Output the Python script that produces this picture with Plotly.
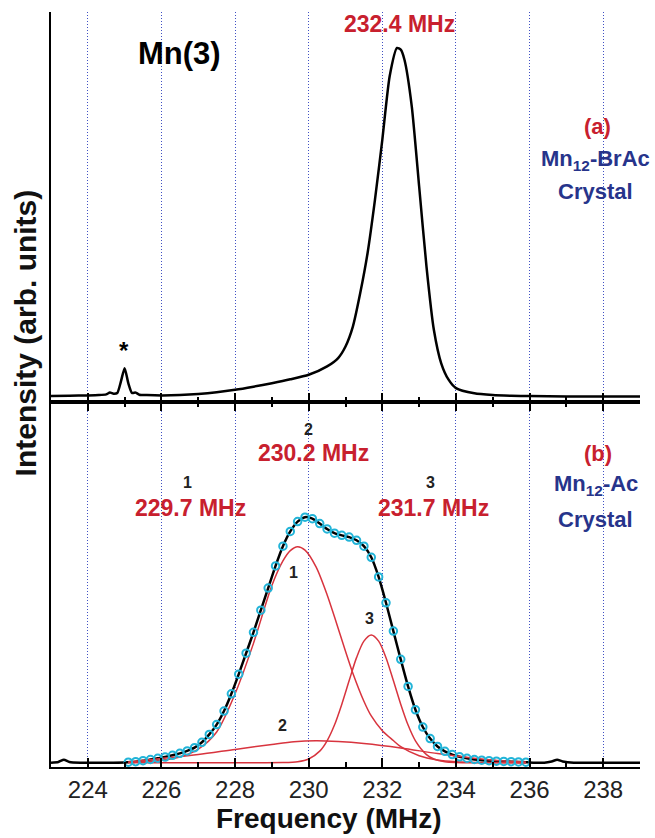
import plotly.graph_objects as go

# ---------------- (a) Mn12-BrAc crystal spectrum ----------------
top_freq = [223.0, 223.5, 224.0, 224.3, 224.5, 224.6, 224.7, 224.8, 224.9, 225.0,
            225.1, 225.2, 225.3, 225.4, 225.6, 226.0, 226.5, 227.0, 227.5, 228.0,
            228.5, 229.0, 229.5, 230.0, 230.5, 230.8, 231.0, 231.2, 231.4, 231.6,
            231.8, 232.0, 232.2, 232.4, 232.5, 232.6, 232.8, 233.0, 233.2, 233.4,
            233.6, 233.8, 234.0, 234.5, 235.0, 235.5, 236.0, 237.0, 238.0, 239.0]
top_intensity = [0.3, 0.4, 0.5, 0.6, 0.8, 1.3, 1.0, 1.2, 4.5, 8.3,
                 4.0, 1.2, 1.3, 0.7, 0.6, 0.5, 0.6, 0.9, 1.4, 2.1,
                 3.0, 4.0, 5.1, 6.4, 8.8, 11.2, 14.5, 20.2, 29.8, 41.3,
                 56.5, 73.7, 91.9, 100.0, 99.5, 96.7, 83.3, 60.4, 37.4, 19.3,
                 9.7, 5.0, 2.6, 1.1, 0.6, 0.4, 0.3, 0.2, 0.2, 0.2]

# ---------------- (b) Mn12-Ac crystal spectrum ----------------
# measured points (open circles)
meas_freq = [225.1, 225.3, 225.5, 225.7, 225.9, 226.1, 226.3, 226.5, 226.7, 226.9,
             227.1, 227.3, 227.5, 227.7, 227.9, 228.1, 228.3, 228.5, 228.7, 228.9,
             229.1, 229.3, 229.5, 229.7, 229.9, 230.1, 230.3, 230.5, 230.7, 230.9,
             231.1, 231.3, 231.5, 231.7, 231.9, 232.1, 232.3, 232.5, 232.7, 232.9,
             233.1, 233.3, 233.5, 233.7, 233.9, 234.1, 234.3, 234.5, 234.7, 234.9,
             235.1, 235.3, 235.5, 235.7, 235.9]
meas_intensity = [0.2, 0.4, 0.8, 1.3, 1.8, 2.3, 3.0, 3.8, 4.8, 6.1,
                  8.3, 11.5, 15.5, 21.0, 28.0, 36.0, 44.5, 53.0, 62.0, 71.0,
                  80.0, 88.0, 94.0, 98.0, 99.8, 99.2, 97.2, 95.0, 93.3, 92.4,
                  91.7, 90.4, 88.0, 83.5, 75.5, 65.0, 53.5, 42.0, 31.0, 21.5,
                  14.5, 9.8, 6.6, 4.6, 3.3, 2.4, 1.8, 1.3, 1.0, 0.8,
                  0.6, 0.5, 0.4, 0.3, 0.2]

# baseline outside the measured window
base_left_freq = [223.0, 223.2, 223.35, 223.5, 223.8, 224.5, 225.0]
base_left_int = [0.0, 0.3, 1.2, 0.3, 0.0, 0.0, 0.1]
base_right_freq = [236.0, 236.4, 236.6, 236.75, 236.9, 237.2, 238.0, 239.0]
base_right_int = [0.1, 0.0, 0.5, 1.2, 0.5, 0.0, 0.0, 0.0]

# fitted components
c1_freq = [225.1, 225.5, 226.0, 226.5, 227.0, 227.5, 228.0, 228.5, 229.0, 229.3,
           229.5, 229.7, 229.9, 230.2, 230.5, 230.7, 231.0, 231.2, 231.5, 231.7,
           232.0, 232.3, 232.5, 233.0, 233.5, 234.0, 235.0, 235.9]
c1_int = [0.2, 0.4, 1.0, 2.3, 5.5, 12.5, 28.0, 48.5, 72.0, 82.0,
          86.2, 87.8, 86.4, 79.6, 68.3, 59.3, 45.3, 36.4, 25.0, 19.0,
          13.0, 9.0, 6.5, 2.8, 1.1, 0.4, 0.05, 0.0]

c2_freq = [225.1, 226.0, 227.0, 228.0, 229.0, 229.6, 230.2, 230.8, 231.5, 232.5,
           233.5, 234.5, 235.2, 235.9]
c2_int = [0.3, 1.7, 3.3, 5.4, 7.4, 8.5, 8.9, 8.6, 7.8, 6.0,
          3.7, 1.8, 0.8, 0.3]

c3_freq = [225.1, 227.0, 228.5, 229.3, 229.7, 230.0, 230.3, 230.5, 230.7, 230.9,
           231.1, 231.3, 231.5, 231.7, 231.9, 232.1, 232.3, 232.5, 232.7, 232.9,
           233.2, 233.4, 233.7, 234.0, 235.0, 235.9]
c3_int = [0.0, 0.0, 0.0, 0.05, 0.4, 1.5, 4.7, 8.9, 15.3, 23.8,
          33.4, 42.7, 49.4, 51.9, 49.4, 42.7, 33.4, 23.8, 15.3, 8.9,
          3.3, 1.5, 0.4, 0.1, 0.0, 0.0]

freq_ticks = [224, 226, 228, 230, 232, 234, 236, 238]

RED = "#c8202e"
NAVY = "#27348b"
CYAN = "#22b4d8"
FIT_RED = "#d8343e"
GRID = "#3f50c4"
FONT = "Liberation Sans"

fig = go.Figure()

# top panel
fig.add_trace(go.Scatter(x=top_freq, y=top_intensity, mode="lines",
                         line=dict(color="black", width=2.5, shape="spline", smoothing=0.6),
                         xaxis="x2", yaxis="y2", showlegend=False))

# bottom panel: data line across the full window
full_freq = base_left_freq + meas_freq + base_right_freq
full_int = base_left_int + meas_intensity + base_right_int
fig.add_trace(go.Scatter(x=full_freq, y=full_int, mode="lines",
                         line=dict(color="black", width=2.5, shape="spline", smoothing=0.6),
                         xaxis="x", yaxis="y", showlegend=False))

for fx, fy in [(c2_freq, c2_int), (c1_freq, c1_int), (c3_freq, c3_int)]:
    fig.add_trace(go.Scatter(x=fx, y=fy, mode="lines",
                             line=dict(color=FIT_RED, width=1.5, shape="spline", smoothing=0.8),
                             xaxis="x", yaxis="y", showlegend=False))

fig.add_trace(go.Scatter(x=meas_freq, y=meas_intensity, mode="markers",
                         marker=dict(symbol="circle-open", size=7.5, color=CYAN,
                                     line=dict(width=2, color=CYAN)),
                         xaxis="x", yaxis="y", showlegend=False))

common_x = dict(range=[223, 239], tickvals=freq_ticks, showgrid=True, gridcolor=GRID,
                griddash="1px,2px", gridwidth=1.2, showline=True, linecolor="black", linewidth=2,
                ticks="inside", ticklen=9, tickwidth=1.5, tickcolor="black",
                minor=dict(dtick=1, tick0=223, ticks="inside", ticklen=5, tickwidth=1.5,
                           tickcolor="black", showgrid=False),
                zeroline=False)

common_y = dict(showline=True, linecolor="black", linewidth=2, showticklabels=False,
                ticks="", showgrid=False, zeroline=False)

fig.update_layout(
    width=655, height=838,
    margin=dict(l=51, r=15, t=12, b=71),
    paper_bgcolor="white", plot_bgcolor="white",
    font=dict(family=FONT, color="black"),
    xaxis=dict(**common_x, anchor="y", mirror="allticks",
               showticklabels=True, tickfont=dict(size=24, color="#222222", family=FONT)),
    yaxis=dict(**common_y, domain=[0, 0.4834], range=[-1.75, 146.6]),
    xaxis2=dict(**common_x, anchor="y2", matches="x", showticklabels=False),
    yaxis2=dict(**common_y, domain=[0.4834, 1], range=[-1.4, 110.3]),
)

ann = []


def label(x, y, text, size, color, ref="1", bold=True):
    xr = "x" if ref == "1" else "x2"
    yr = "y" if ref == "1" else "y2"
    ann.append(dict(x=x, y=y, xref=xr, yref=yr, text=text, showarrow=False,
                    font=dict(size=size, color=color, family=FONT,
                              weight="bold" if bold else "normal"),
                    xanchor="center", yanchor="middle"))


# top panel labels
label(232.48, 107.0, "232.4 MHz", 23, RED, ref="2")
label(226.5, 98.5, "Mn(3)", 31, "black", ref="2")
label(224.98, 13.5, "*", 24, "black", ref="2")
label(237.85, 77.4, "(a)", 22, RED, ref="2")
label(237.8, 68.0, "Mn<sub>12</sub>-BrAc", 22, NAVY, ref="2")
label(237.8, 59.0, "Crystal", 22, NAVY, ref="2")

# bottom panel labels
label(230.0, 135.3, "2", 16, "#222222")
label(230.12, 125.9, "230.2 MHz", 23, RED)
label(226.7, 113.7, "1", 16, "#222222")
label(226.8, 103.5, "229.7 MHz", 23, RED)
label(233.3, 113.7, "3", 16, "#222222")
label(233.38, 103.5, "231.7 MHz", 23, RED)
label(237.85, 125.5, "(b)", 22, RED)
label(237.8, 113.0, "Mn<sub>12</sub>-Ac", 22, NAVY)
label(237.8, 98.7, "Crystal", 22, NAVY)
label(229.6, 77.5, "1", 16, "#222222")
label(231.66, 58.8, "3", 16, "#222222")
label(229.28, 15.3, "2", 16, "#222222")

# axis titles
ann.append(dict(x=0.472, y=-0.0685, xref="paper", yref="paper", text="Frequency (MHz)",
                showarrow=False, xanchor="center", yanchor="middle",
                font=dict(size=28, color="#111111", family=FONT, weight="bold")))
ann.append(dict(x=-0.0435, y=0.5748, xref="paper", yref="paper",
                text="Intensity (arb. units)", textangle=-90, showarrow=False,
                xanchor="center", yanchor="middle",
                font=dict(size=30, color="#111111", family=FONT, weight="bold")))

fig.update_layout(annotations=ann)

fig.write_html("out.html")
